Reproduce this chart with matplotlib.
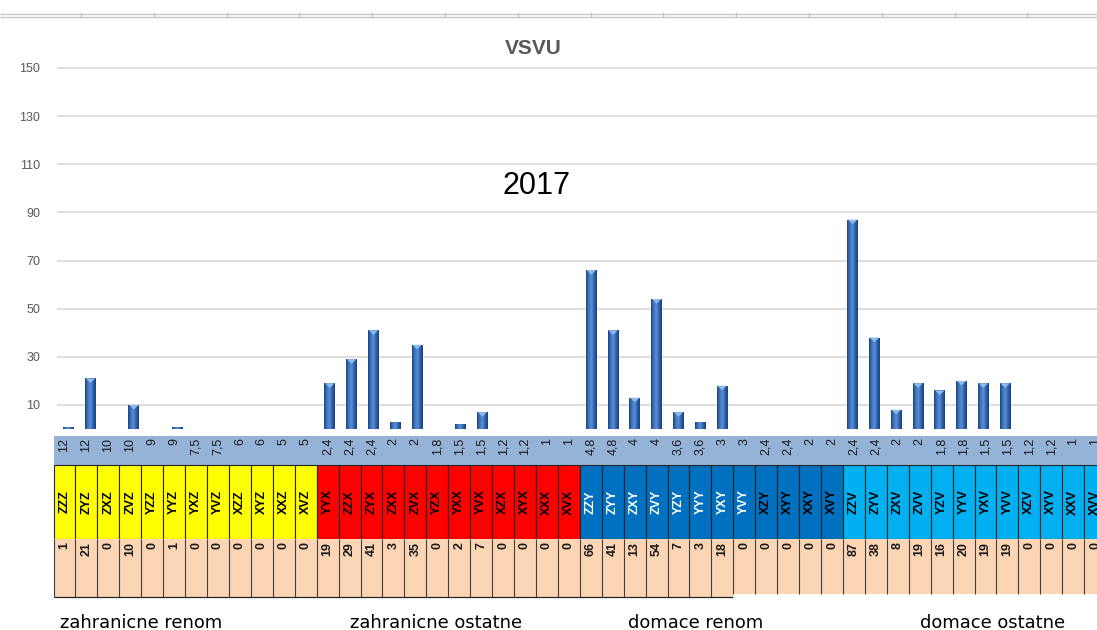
import numpy as np
import matplotlib.pyplot as plt
from matplotlib.colors import LinearSegmentedColormap
from matplotlib.patches import Rectangle, Polygon

# --- data ---
codes = ['ZZZ', 'ZYZ', 'ZXZ', 'ZVZ', 'YZZ', 'YYZ', 'YXZ', 'YVZ', 'XZZ', 'XYZ', 'XXZ', 'XVZ',
         'YYX', 'ZZX', 'ZYX', 'ZXX', 'ZVX', 'YZX', 'YXX', 'YVX', 'XZX', 'XYX', 'XXX', 'XVX',
         'ZZY', 'ZYY', 'ZXY', 'ZVY', 'YZY', 'YYY', 'YXY', 'YVY', 'XZY', 'XYY', 'XXY', 'XVY',
         'ZZV', 'ZYV', 'ZXV', 'ZVV', 'YZV', 'YYV', 'YXV', 'YVV', 'XZV', 'XYV', 'XXV', 'XVV']
weights = [12, 12, 10, 10, 9, 9, 7.5, 7.5, 6, 6, 5, 5,
           2.4, 2.4, 2.4, 2, 2, 1.8, 1.5, 1.5, 1.2, 1.2, 1, 1,
           4.8, 4.8, 4, 4, 3.6, 3.6, 3, 3, 2.4, 2.4, 2, 2,
           2.4, 2.4, 2, 2, 1.8, 1.8, 1.5, 1.5, 1.2, 1.2, 1, 1]
values = [1, 21, 0, 10, 0, 1, 0, 0, 0, 0, 0, 0,
          19, 29, 41, 3, 35, 0, 2, 7, 0, 0, 0, 0,
          66, 41, 13, 54, 7, 3, 18, 0, 0, 0, 0, 0,
          87, 38, 8, 19, 16, 20, 19, 19, 0, 0, 0, 0]
groups = ['zahranicne renom', 'zahranicne ostatne', 'domace renom', 'domace ostatne']
group_colors = ['#FFFF00', '#FF0000', '#0070C0', '#00B0F0']
white_codes = ['ZZY', 'ZYY', 'ZXY', 'ZVY', 'YZY', 'YYY', 'YXY', 'YVY']
yticks = [10, 30, 50, 70, 90, 110, 130, 150]
title = 'VSVU'
year = '2017'

W, H = 1097, 630
n = len(codes)
gsize = 12
col_left, col_w = 53.5, 21.93     # table columns in pixels
y0_px, px_per_unit = 429.0, 2.407  # bar axis zero and scale

fig = plt.figure(figsize=(W / 100, H / 100), dpi=100)

# overlay in pixel coords for decoration/text
ax_px = fig.add_axes([0, 0, 1, 1])
ax_px.set_xlim(0, W)
ax_px.set_ylim(H, 0)
ax_px.axis('off')

# top spreadsheet strip
ax_px.hlines([14, 17], 0, W, color='#C8C8C8', lw=1)
for tx in np.arange(81, W, 72.8):
    ax_px.vlines(tx, 11.5, 17, color='#C8C8C8', lw=1)

# --- table ---
ax_t = fig.add_axes([0, 0, 1, 1])
ax_t.set_xlim(-col_left / col_w, (W - col_left) / col_w)
ax_t.set_ylim(H, 0)
ax_t.axis('off')

ax_t.add_patch(Rectangle((0, 436), n, 29, fc='#95B3D7', ec='none'))
for j in range(n):
    g = j // gsize
    w = weights[j]
    wlab = ('%g' % w).replace('.', ',')
    ax_t.text(j + 0.5, 438, wlab, rotation=90, ha='center', va='top',
              fontsize=9, family='Liberation Sans', color='#1a1a1a')

    ax_t.add_patch(Rectangle((j, 465), 1, 74, fc=group_colors[g], ec='#262626', lw=0.8))
    tc = 'white' if codes[j] in white_codes else 'black'
    ax_t.text(j + 0.5, 502, codes[j], rotation=90, ha='center', va='center',
              fontsize=9, family='Liberation Sans', fontweight='bold', color=tc)

    bottom = 597 if j <= 30 else 594
    ax_t.add_patch(Rectangle((j, 539), 1, bottom - 539, fc='#FCD5B4', ec='none'))
    ax_t.vlines(j, 539, bottom, color='#404040', lw=0.8)
    ax_t.text(j + 0.5, 542, str(values[j]), rotation=90, ha='center', va='top',
              fontsize=9, family='Liberation Sans', fontweight='bold', color='#1a1a1a')
ax_t.vlines(n, 539, 594, color='#404040', lw=0.8)
ax_t.hlines(597, 0, 31, color='#262626', lw=0.9)

# --- bar chart ---
ymax = 152
ax = fig.add_axes([57 / W, (H - y0_px) / H, (W - 57) / W, ymax * px_per_unit / H])
x = np.arange(n)
bars = ax.bar(x, values, width=0.5, color='#2E5FA6', edgecolor='none', zorder=3)

cmap = LinearSegmentedColormap.from_list('cyl', ['#1C447F', '#3F74BF', '#5A8ED6', '#2F62AA', '#1A3F78'])
grad = np.linspace(0, 1, 64).reshape(1, -1)
for b in bars:
    h = b.get_height()
    if h <= 0:
        continue
    x0, bw = b.get_x(), b.get_width()
    im = ax.imshow(grad, extent=(x0, x0 + bw, 0, h), cmap=cmap, aspect='auto', zorder=4)
    im.set_clip_path(b)
    if h > 4:
        ax.add_patch(Polygon([(x0 + 0.06 * bw, h), (x0 + 0.94 * bw, h), (x0 + bw / 2, h - 1.9)],
                             closed=True, fc='#8DBBEC', ec='none', zorder=5))

ax.set_xlim(-0.53, 47.22)
ax.set_ylim(0, ymax)
ax.set_yticks(yticks)
ax.set_xticks([])
ax.yaxis.grid(True, color='#D9D9D9', lw=1.2)
ax.set_axisbelow(True)
for s in ax.spines.values():
    s.set_visible(False)
ax.tick_params(axis='y', length=0, pad=12, labelsize=9, labelcolor='#595959')
for lab in ax.get_yticklabels():
    lab.set_family('Liberation Sans')
ax.patch.set_alpha(0)

# --- texts ---
ax_px.text(533, 48, title, ha='center', va='center', fontsize=15, fontweight='bold',
           family='Liberation Sans', color='#595959')
ax_px.text(536, 186, year, ha='center', va='center', fontsize=22,
           family='Liberation Sans', color='black')
label_x = [60, 350, 628, 920]
for gx, gname in zip(label_x, groups):
    ax_px.text(gx, 628, gname, ha='left', va='baseline', fontsize=12.9, color='black')

fig.savefig('out.png', dpi=100)
